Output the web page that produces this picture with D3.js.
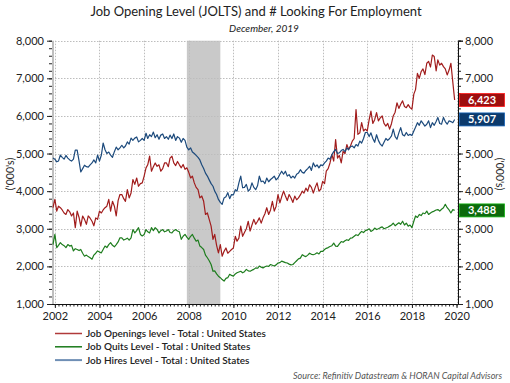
<!DOCTYPE html>
<html><head><meta charset="utf-8">
<script src="https://cdn.jsdelivr.net/npm/d3@7"></script>
<style>
body{margin:0;background:#fff;}
svg{display:block;font-family:Lato,"Liberation Sans",sans-serif;}
</style></head>
<body><svg id="c" width="510" height="383"></svg>
<script>
// Monthly data, Dec 2001 .. Dec 2019 (thousands)
const startMonth = [2001, 11]; // Dec 2001
const openings = [
3560,
3780,3470,3600,3560,3500,3420,3380,3510,3450,3340,3420,3030,
3470,3300,3070,3340,3250,3120,3340,3280,3200,3080,3290,3250,
3470,3420,3500,3560,3600,3780,3470,3730,3600,3340,3750,3910,
3910,3800,3730,4040,3820,3950,4310,4180,4350,4130,4200,4220,
4400,4620,4700,4930,4530,4650,4750,4660,4700,4530,4600,4750,
4750,4650,4880,4930,4750,4680,4790,4700,4620,4710,4580,4620,
4500,4350,4400,4220,4100,4040,3820,3870,3730,3380,3420,3250,
3070,2720,2850,2560,2360,2580,2270,2400,2490,2350,2400,2450,
2490,2800,2670,2750,3070,2800,2900,3000,3200,2940,3100,3250,
3120,3200,3290,3150,3290,3400,3560,3380,3500,3730,3470,3600,
3910,3690,3850,4000,3870,3750,3910,3820,3700,3870,3770,3820,
3900,4000,3950,4080,4000,4170,4100,3950,4100,4220,4000,4050,
4260,4200,4530,4600,4750,4970,4800,5370,4880,4950,4750,5060,
5000,5240,5110,5200,5330,5400,6170,5510,5550,5820,5600,5650,
5600,5900,6130,5800,5900,6090,5870,5950,6000,5800,5730,5800,
5650,5800,6000,6100,6350,6200,6310,6400,6250,6220,6300,6220,
6180,6580,6700,7130,7000,7180,7250,7100,7400,7450,7300,7620,
7580,7200,7490,7350,7400,7310,7250,7090,7220,7400,6900,6423];
const hires = [
4880,
4850,4780,4800,4960,4900,4850,4950,4880,4830,4800,4850,5090,
5090,4800,4510,4600,4690,4650,4640,4700,4750,4830,4750,4960,
4800,4960,5280,5100,5000,5040,4960,4900,5050,5170,5100,5150,
5220,5150,5200,5310,5250,5410,5350,5410,5440,5310,5350,5400,
5350,5540,5400,5500,5450,5570,5420,5500,5380,5490,5520,5400,
5450,5380,5490,5400,5520,5350,5450,5410,5300,5400,5350,5170,
5100,5150,5040,5000,4950,4900,4830,4700,4600,4480,4400,4300,
4200,4130,4000,3910,3780,3700,3650,3820,3850,3960,3800,3910,
3900,4040,4000,4220,4400,4090,4100,4180,4000,4050,4220,4100,
4040,4150,4400,4250,4270,4200,4350,4250,4310,4350,4400,4300,
4350,4450,4530,4450,4530,4400,4440,4350,4400,4350,4450,4480,
4570,4500,4480,4550,4600,4660,4550,4750,4650,4700,4620,4700,
4680,4750,4800,4880,4850,4970,5050,5110,5000,5020,5080,5110,
5050,5150,5100,5180,5200,5150,5240,5200,5330,5280,5400,5560,
5560,5450,5550,5400,5300,5500,5350,5250,5200,5300,5400,5350,
5400,5470,5650,5450,5380,5550,5690,5500,5470,5560,5480,5510,
5480,5600,5700,5820,5750,5870,5800,5730,5780,5870,5690,5820,
5750,5850,5960,5800,5780,5960,5850,5780,5870,5850,5820,5907];
const quits = [
2580,
2850,2500,2560,2630,2580,2550,2500,2580,2540,2560,2410,2470,
2450,2420,2450,2350,2270,2300,2260,2230,2190,2300,2350,2410,
2380,2360,2450,2540,2500,2580,2630,2560,2520,2580,2650,2760,
2760,2700,2720,2750,2700,2760,2980,2890,2950,3030,2850,2810,
2850,2980,2920,2890,3030,2950,3030,2980,2890,2950,2980,2920,
2940,2980,2900,2890,2950,2980,2940,2920,2720,2800,2850,2780,
2720,2800,2850,2750,2670,2700,2540,2500,2450,2300,2230,2150,
2050,1870,1880,1800,1740,1700,1650,1610,1680,1700,1790,1760,
1740,1800,1830,1850,1870,1830,1860,1920,1880,1870,1900,1920,
1960,1950,2010,1980,1960,1990,2010,2000,2050,2030,2010,2040,
2090,2100,2140,2120,2100,2090,2060,2040,2050,2100,2150,2200,
2220,2310,2280,2260,2300,2350,2320,2310,2330,2360,2330,2400,
2400,2450,2480,2500,2530,2550,2620,2540,2530,2600,2660,2640,
2680,2710,2690,2750,2760,2800,2840,2820,2880,2930,2900,2950,
2970,3000,2930,2960,3020,2980,3000,3030,3050,3000,3020,3040,
3070,3100,3150,3080,3120,3160,3120,3200,3100,3150,3070,3100,
3030,3200,3340,3300,3380,3350,3420,3400,3470,3380,3420,3450,
3470,3500,3510,3470,3520,3560,3650,3560,3500,3420,3510,3488];
const yTicks = [1000,2000,3000,4000,5000,6000,7000,8000];
const xTickYears = [2002,2004,2006,2008,2010,2012,2014,2016,2018,2020];
const recession = [[2007,11],[2009,5]]; // Dec 2007 - Jun 2009
const seriesNames = ["Job Openings level - Total : United States","Job Quits Level - Total : United States","Job Hires Level - Total : United States"];
const seriesColors = ["#a11c1c","#1e7d1e","#1c4a7c"];
const legendColors = ["#b03a3a","#1a7a1a","#6f8fb5"];
const boxColors = ["#9e0f0f","#0b6a0b","#0c3a6c"];

const svg = d3.select("#c");
const L=52, R=458, T=40.7, B=304;
const x = d3.scaleTime().domain([new Date(2001,10,15), new Date(2020,0,25)]).range([L,R]);
const y = d3.scaleLinear().domain([1000,8000]).range([B,T]);
const fmt = d3.format(",");
const dateOf = i => new Date(startMonth[0], startMonth[1]+i, 1);
const lastVals = [openings, quits, hires].map(s=>s[s.length-1]);

// recession shading
svg.append("rect")
  .attr("x", x(new Date(recession[0][0],recession[0][1],1)))
  .attr("y", T)
  .attr("width", x(new Date(recession[1][0],recession[1][1],1)) - x(new Date(recession[0][0],recession[0][1],1)))
  .attr("height", B-T).attr("fill","#c9c9c9");

// gridlines
const grid = svg.append("g").attr("stroke","#bdbdbd").attr("stroke-dasharray","1.5,1.5").attr("stroke-width",1);
yTicks.forEach(v=>{ if(v>1000) grid.append("line").attr("x1",L).attr("x2",R).attr("y1",Math.round(y(v))+0.5).attr("y2",Math.round(y(v))+0.5);});
xTickYears.forEach(yr=>{ const px=Math.round(x(new Date(yr,0,1)))+0.5; grid.append("line").attr("x1",px).attr("x2",px).attr("y1",T).attr("y2",B);});

// left axis grey band
svg.append("line").attr("x1",L+1).attr("x2",L+1).attr("y1",T).attr("y2",B).attr("stroke","#bfbfbf").attr("stroke-width",2);

// series lines
const line = d3.line().x((d,i)=>x(dateOf(i))).y(d=>y(d));
[openings, quits, hires].forEach((s,k)=>{
  svg.append("path").datum(s).attr("d",line).attr("fill","none")
    .attr("stroke",seriesColors[k]).attr("stroke-width",1.2).attr("stroke-linejoin","round");
});

// axes
function styleAxis(g){
  g.selectAll("text").attr("fill","#222").style("font-size","11px").style("font-family","Lato, 'Liberation Sans', sans-serif");
  g.selectAll("line").attr("stroke","#222");
}
const minorY = d3.range(1000,8001,200);
svg.append("g").attr("transform",`translate(${L},0)`)
  .call(d3.axisLeft(y).tickValues(minorY).tickSize(3).tickFormat(""))
  .call(g=>{g.select(".domain").remove(); g.selectAll("line").attr("stroke","#222");});
svg.append("g").attr("transform",`translate(${L},0)`)
  .call(d3.axisLeft(y).tickValues(yTicks).tickSize(5).tickPadding(3).tickFormat(fmt))
  .call(g=>{g.select(".domain").remove(); styleAxis(g);});

svg.append("g").attr("transform",`translate(${R},0)`)
  .call(d3.axisRight(y).tickValues(minorY).tickSize(3).tickFormat(""))
  .call(g=>{g.select(".domain").attr("stroke","#111"); g.selectAll("line").attr("stroke","#222");});
// right labels hidden where the end-value boxes cover them (as in the reference)
const rightLabelled = yTicks.filter(v => lastVals.every(lv => Math.abs(y(v)-y(lv)) > 9));
svg.append("g").attr("transform",`translate(${R},0)`)
  .call(d3.axisRight(y).tickValues(yTicks).tickSize(5).tickPadding(2).tickFormat(v => rightLabelled.includes(v) ? fmt(v) : ""))
  .call(g=>{g.select(".domain").attr("stroke","#111"); styleAxis(g);});

const minorX = d3.timeMonth.every(2).range(new Date(2002,0,1), new Date(2020,1,1));
svg.append("g").attr("transform",`translate(0,${B})`)
  .call(d3.axisBottom(x).tickValues(minorX).tickSize(2.5).tickFormat(""))
  .call(g=>{g.select(".domain").remove(); g.selectAll("line").attr("stroke","#222");});
svg.append("g").attr("transform",`translate(0,${B})`)
  .call(d3.axisBottom(x).tickValues(xTickYears.map(v=>new Date(v,0,1))).tickSize(4).tickPadding(4).tickFormat(d3.timeFormat("%Y")))
  .call(g=>{g.select(".domain").attr("stroke","#111").attr("d",`M${L},0.5H${R}`); styleAxis(g);});

// axis titles
svg.append("text").attr("transform","translate(14,174) rotate(-90)").attr("text-anchor","middle")
  .style("font-size","10.5px").attr("fill","#222").text("('000's)");
svg.append("text").attr("transform","translate(496,174) rotate(90)").attr("text-anchor","middle")
  .style("font-size","10.5px").attr("fill","#222").text("('000's)");

// titles
svg.append("text").attr("x",256).attr("y",16).attr("text-anchor","middle")
  .style("font-size","13px").attr("fill","#222").text("Job Opening Level (JOLTS) and # Looking For Employment");
svg.append("text").attr("x",264).attr("y",32).attr("text-anchor","middle")
  .style("font-size","10px").style("font-style","italic").attr("fill","#222").text("December, 2019");

// end labels
lastVals.forEach((v,k)=>{
  const cy = y(v);
  svg.append("rect").attr("x",R+1.5).attr("y",cy-6.5).attr("width",45).attr("height",13)
    .attr("fill",boxColors[k]).attr("stroke",d3.color(boxColors[k]).brighter(1.5)).attr("stroke-width",0.8);
  svg.append("text").attr("x",R+24).attr("y",cy+4).attr("text-anchor","middle")
    .style("font-size","11px").style("font-weight","bold").attr("fill","#fff").text(fmt(v));
});

// legend
seriesNames.forEach((n,k)=>{
  const ly = 333.5 + k*13.3;
  svg.append("line").attr("x1",55).attr("x2",82).attr("y1",ly).attr("y2",ly)
    .attr("stroke",legendColors[k]).attr("stroke-width",k===2?2:1.5);
  svg.append("text").attr("x",86).attr("y",ly+3.5).style("font-size","10px").style("font-weight","600")
    .attr("fill","#222").text(n);
});

// source
svg.append("text").attr("x",502).attr("y",379).attr("text-anchor","end")
  .style("font-size","9px").style("font-style","italic").attr("fill","#555")
  .text("Source: Refinitiv Datastream & HORAN Capital Advisors");
</script></body></html>
